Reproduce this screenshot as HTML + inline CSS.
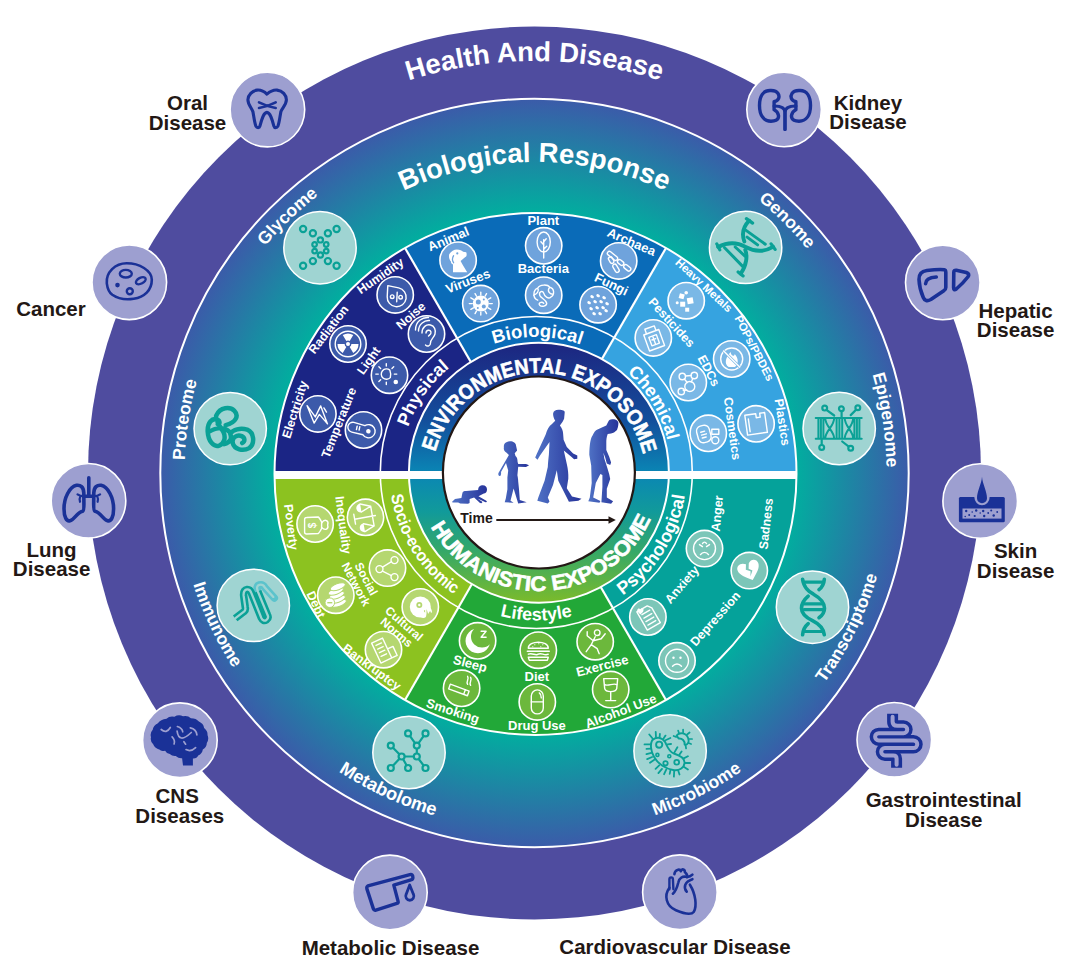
<!DOCTYPE html>
<html><head><meta charset="utf-8"><style>html,body{margin:0;padding:0;background:#fff;}svg{display:block;}</style></head>
<body><svg width="1080" height="969" viewBox="0 0 1080 969">
<defs><radialGradient id="bioG" gradientUnits="userSpaceOnUse" cx="534.5" cy="473" r="374"><stop offset="0.70" stop-color="#02ad9f"/><stop offset="1" stop-color="#3b5ba9"/></radialGradient><linearGradient id="expG" gradientUnits="userSpaceOnUse" x1="0" y1="343" x2="0" y2="603"><stop offset="0" stop-color="#1d2580"/><stop offset="0.3" stop-color="#134f9c"/><stop offset="0.5" stop-color="#0a86b5"/><stop offset="0.65" stop-color="#119a9a"/><stop offset="0.8" stop-color="#35a868"/><stop offset="1" stop-color="#7cbb2a"/></linearGradient><path id="ap1" d="M462.96,878.74 A412,412 0 1 1 606.04,878.74"/><path id="ap2" d="M480.5,779.28 A311,311 0 1 1 588.5,779.28"/><path id="ap3" d="M730.83,765.16 A352,352 0 1 1 818.91,680.4"/><path id="ap4" d="M245.34,675.47 A353,353 0 1 1 332.03,762.16"/><path id="ap5" d="M182.61,464.4 A352,352 0 1 1 200.89,585.27"/><path id="ap6" d="M866.02,585.21 A350,350 0 1 1 884.41,465.06"/><path id="ap7" d="M826.77,264.53 A359,359 0 1 0 880.44,377.06"/><path id="ap8" d="M625.39,127.76 A357,357 0 1 0 737.99,179.67"/><path id="ap9" d="M315.54,183.48 A363,363 0 1 0 427.76,126.05"/><path id="ap10" d="M190.89,372.52 A358,358 0 1 0 245.98,261.06"/><path id="ap11" d="M632.47,568.67 A136,136 0 1 1 659.56,529.98"/><path id="ap12" d="M511.61,605.73 A135.5,135.5 0 1 1 558.66,606.14"/><path id="ap13" d="M410.02,520.22 A135,135 0 1 1 433.95,560.53"/><path id="ap14" d="M644.85,373.38 A147,147 0 1 0 672.21,416.48"/><path id="ap15" d="M510.6,326.75 A148,148 0 1 0 562,326.75"/><path id="ap16" d="M396.75,416.68 A150.3,150.3 0 1 0 424.25,372.32"/><path id="ap17" d="M519.16,585.47 A107.3,107.3 0 1 1 556.42,585.86"/><path id="ap18" d="M513.12,347.73 A123,123 0 1 0 555.81,346.17"/><linearGradient id="figG" x1="0" y1="0" x2="1" y2="0"><stop offset="0" stop-color="#5073c6"/><stop offset="1" stop-color="#26339a"/></linearGradient></defs>
<circle cx="534.5" cy="473.0" r="446.5" fill="#4f4c9f"/>
<circle cx="534.5" cy="473.0" r="374.2" fill="url(#bioG)" stroke="#fff" stroke-width="2"/>
<path d="M535.5,474 L666,247.97 A261,261 0 0 1 796.5,474 Z" fill="#36a3e0"/>
<path d="M535.5,474 L405,247.97 A261,261 0 0 1 666,247.97 Z" fill="#0a6bb8"/>
<path d="M535.5,474 L274.5,474 A261,261 0 0 1 405,247.97 Z" fill="#1b2585"/>
<path d="M535.5,474 L796.5,474 A261,261 0 0 1 666,700.03 Z" fill="#05a29a"/>
<path d="M535.5,474 L666,700.03 A261,261 0 0 1 405,700.03 Z" fill="#22a838"/>
<path d="M535.5,474 L405,700.03 A261,261 0 0 1 274.5,474 Z" fill="#8cc220"/>
<circle cx="535.5" cy="474.0" r="261.0" fill="none" stroke="#fff" stroke-width="2"/>
<line x1="535.5" y1="474" x2="405" y2="247.97" stroke="#fff" stroke-width="2.2"/>
<line x1="535.5" y1="474" x2="666" y2="247.97" stroke="#fff" stroke-width="2.2"/>
<line x1="535.5" y1="474" x2="666" y2="700.03" stroke="#fff" stroke-width="2.2"/>
<line x1="535.5" y1="474" x2="405" y2="700.03" stroke="#fff" stroke-width="2.2"/>
<circle cx="536.3" cy="472.5" r="156" fill="none" stroke="#fff" stroke-width="1.6"/>
<circle cx="538.9" cy="472.7" r="130" fill="url(#expG)" stroke="#fff" stroke-width="2"/>
<rect x="274.6" y="471" width="521.5" height="8" fill="#fff"/>
<circle cx="538.9" cy="472.5" r="96" fill="#fff" stroke="#231815" stroke-width="2.2"/>
<g style='font-family:"Liberation Sans", sans-serif'>
<text font-size="27.5" font-weight="bold" fill="#fff"><textPath href="#ap1" startOffset="50%" text-anchor="middle">Health And Disease</textPath></text>
<text font-size="27.5" font-weight="bold" fill="#fff"><textPath href="#ap2" startOffset="50%" text-anchor="middle">Biological Response</textPath></text>
<text font-size="17.5" font-weight="bold" fill="#fff"><textPath href="#ap3" startOffset="50%" text-anchor="middle">Glycome</textPath></text>
<text font-size="17.5" font-weight="bold" fill="#fff"><textPath href="#ap4" startOffset="50%" text-anchor="middle">Genome</textPath></text>
<text font-size="17.5" font-weight="bold" fill="#fff"><textPath href="#ap5" startOffset="50%" text-anchor="middle">Epigenome</textPath></text>
<text font-size="17.5" font-weight="bold" fill="#fff"><textPath href="#ap6" startOffset="50%" text-anchor="middle">Proteome</textPath></text>
<text font-size="17.5" font-weight="bold" fill="#fff"><textPath href="#ap7" startOffset="50%" text-anchor="middle">Immunome</textPath></text>
<text font-size="18.2" font-weight="bold" fill="#fff"><textPath href="#ap8" startOffset="50%" text-anchor="middle">Metabolome</textPath></text>
<text font-size="17.5" font-weight="bold" fill="#fff"><textPath href="#ap9" startOffset="50%" text-anchor="middle">Microbiome</textPath></text>
<text font-size="17.5" font-weight="bold" fill="#fff"><textPath href="#ap10" startOffset="50%" text-anchor="middle">Transcriptome</textPath></text>
<text font-size="18" font-weight="bold" fill="#fff"><textPath href="#ap11" startOffset="50%" text-anchor="middle">Physical</textPath></text>
<text font-size="18.5" font-weight="bold" fill="#fff"><textPath href="#ap12" startOffset="50%" text-anchor="middle">Biological</textPath></text>
<text font-size="18" font-weight="bold" fill="#fff"><textPath href="#ap13" startOffset="50%" text-anchor="middle">Chemical</textPath></text>
<text font-size="17" font-weight="bold" fill="#fff"><textPath href="#ap14" startOffset="50%" text-anchor="middle" textLength="121" lengthAdjust="spacingAndGlyphs">Socio-economic</textPath></text>
<text font-size="18" font-weight="bold" fill="#fff"><textPath href="#ap15" startOffset="50%" text-anchor="middle">Lifestyle</textPath></text>
<text font-size="18" font-weight="bold" fill="#fff"><textPath href="#ap16" startOffset="50%" text-anchor="middle">Psychological</textPath></text>
<text font-size="21" font-weight="bold" fill="#fff" stroke="#fff" stroke-width="0.6"><textPath href="#ap17" startOffset="50%" text-anchor="middle" textLength="283" lengthAdjust="spacingAndGlyphs">ENVIRONMENTAL EXPOSOME</textPath></text>
<text font-size="21" font-weight="bold" fill="#fff" stroke="#fff" stroke-width="0.6"><textPath href="#ap18" startOffset="50%" text-anchor="middle" textLength="273" lengthAdjust="spacingAndGlyphs">HUMANISTIC EXPOSOME</textPath></text>
</g>
<circle cx="267.4" cy="109.6" r="37.3" fill="#9d9fd0" stroke="#fff" stroke-width="1.6"/>
<g transform="translate(267.4,109.6)" ><path fill="none" stroke="#1a3197" stroke-linecap="round" stroke-linejoin="round" stroke-width="3.1" d="M -0.5,-15.4 C 3,-18.5 6,-19.8 9.7,-19.5 C 15,-19 19,-14.5 19,-9.8 C 19,-5 15,-2 13.5,2 C 12.5,7 12,13 10.5,16.5 C 9.5,18.5 7,18.5 6.5,16.5 C 5,11 3,3 -0.5,2.8 C -4,3 -6,11 -7.5,16.5 C -8,18.5 -10.5,18.5 -11.5,16.5 C -13,13 -13.5,7 -14.5,2 C -16,-2 -19.5,-5 -19.5,-9.8 C -19.5,-14.5 -15,-19 -10.3,-19.5 C -6.5,-19.8 -3.5,-18.5 -0.5,-15.4 Z"/><path fill="none" stroke="#1a3197" stroke-linecap="round" stroke-linejoin="round" stroke-width="2.6" d="M -8.4,-7.3 Q 0,-3 8.3,-1.6 M -8.4,-1.6 Q 0,-3 8.3,-7.3"/></g>
<circle cx="784.1" cy="109.5" r="37.3" fill="#9d9fd0" stroke="#fff" stroke-width="1.6"/>
<g transform="translate(784.1,109.5)" ><g transform="translate(0.9,0)"><path fill="none" stroke="#1a3197" stroke-linecap="round" stroke-linejoin="round" stroke-width="3.4" d="M -10.9,-7.8 C -6,-9 -5,-13 -7,-16 C -9,-19.5 -13,-19 -15,-19 C -22,-19 -25.5,-13 -25.5,-4 C -25.5,6 -21,11.7 -14,11.7 C -11,11.7 -6,11 -6.5,6 C -7,3 -9,1 -10.9,0.2 Z"/><path fill="none" stroke="#1a3197" stroke-linecap="round" stroke-linejoin="round" stroke-width="3.4" d="M -10.9,-7.8 C -6,-9 -5,-13 -7,-16 C -9,-19.5 -13,-19 -15,-19 C -22,-19 -25.5,-13 -25.5,-4 C -25.5,6 -21,11.7 -14,11.7 C -11,11.7 -6,11 -6.5,6 C -7,3 -9,1 -10.9,0.2 Z" transform="scale(-1,1)"/><path fill="none" stroke="#1a3197" stroke-linecap="round" stroke-linejoin="round" stroke-width="3.2" stroke-linecap="butt" d="M -10.9,-3.5 C -5,-3.5 0,-2 0,3 L 0,20"/><path fill="none" stroke="#1a3197" stroke-linecap="round" stroke-linejoin="round" stroke-linecap="butt" stroke-width="3.2" d="M -10.9,-3.5 C -5,-3.5 0,-2 0,3 L 0,20" transform="scale(-1,1)"/></g></g>
<circle cx="129.3" cy="282.3" r="37.3" fill="#9d9fd0" stroke="#fff" stroke-width="1.6"/>
<g transform="translate(129.3,282.3)" ><path fill="none" stroke="#1a3197" stroke-linecap="round" stroke-linejoin="round" stroke-width="2.6" d="M -22.5,1 C -23.5,-10 -14,-19 -2.6,-19 C 10,-19 22.5,-12 22.5,-2.5 C 22.5,8 15,15 4.4,16.5 C -5,18 -12,16 -17,12.5 C -21,9.5 -22,5 -22.5,1 Z"/><ellipse fill="none" stroke="#1a3197" stroke-linecap="round" stroke-linejoin="round" stroke-width="2.4" cx="-3.5" cy="-8.6" rx="6" ry="3.8"/><ellipse fill="none" stroke="#1a3197" stroke-linecap="round" stroke-linejoin="round" stroke-width="2.4" cx="11.5" cy="-1.6" rx="5.3" ry="2.9" transform="rotate(-28 11.5 -1.6)"/><circle fill="none" stroke="#1a3197" stroke-linecap="round" stroke-linejoin="round" stroke-width="2.4" cx="0.5" cy="9" r="3"/><circle fill="#1a3197" cx="-11.8" cy="2.8" r="2.3"/></g>
<circle cx="942.8" cy="282.5" r="37.3" fill="#9d9fd0" stroke="#fff" stroke-width="1.6"/>
<g transform="translate(942.8,282.5)" ><path fill="none" stroke="#1a3197" stroke-linecap="round" stroke-linejoin="round" stroke-width="3.6" d="M -16,-12 C -4,-13.5 0,-13 1.5,-12.8 Q 3,-12.6 3,-10 L 3,5 Q 3,7 1,8.2 L -12,17 Q -17.5,20 -19.5,15 Q -23.5,6 -23.8,-3 Q -24,-11 -16,-12 Z"/><path fill="none" stroke="#1a3197" stroke-linecap="round" stroke-linejoin="round" stroke-width="3.6" stroke-linecap="butt" d="M -17.2,1.3 Q -17,-5 -6.5,-5.5"/><path fill="none" stroke="#1a3197" stroke-linecap="round" stroke-linejoin="round" stroke-width="3.6" d="M 11,-10 Q 11,-12.5 13.5,-12.3 L 23.5,-10 Q 27.5,-8.5 25,-5.5 Q 20,1 13.5,6.5 Q 10.8,8.5 10.8,5 Z"/></g>
<circle cx="88.5" cy="500.8" r="37.3" fill="#9d9fd0" stroke="#fff" stroke-width="1.6"/>
<g transform="translate(88.5,500.8)" ><path fill="none" stroke="#1a3197" stroke-linecap="round" stroke-linejoin="round" stroke-width="3.6" d="M 0.3,-23 L 0.3,-5"/><path fill="none" stroke="#1a3197" stroke-linecap="round" stroke-linejoin="round" stroke-width="3.6" d="M -4.6,-4.6 L 5.2,-4.6"/><path fill="none" stroke="#1a3197" stroke-linecap="round" stroke-linejoin="round" stroke-width="3.6" d="M -4.7,-8 C -5,-14 -8,-16 -12,-15.5 C -19,-14 -24.5,-3 -24.5,8 C -24.5,16 -22,21 -18.5,20 C -14,19 -12,12 -6,10.5 C -4.5,10 -4.5,6 -4.6,2 Z"/><path fill="none" stroke="#1a3197" stroke-linecap="round" stroke-linejoin="round" stroke-width="3.6" d="M -4.7,-8 C -5,-14 -8,-16 -12,-15.5 C -19,-14 -24.5,-3 -24.5,8 C -24.5,16 -22,21 -18.5,20 C -14,19 -12,12 -6,10.5 C -4.5,10 -4.5,6 -4.6,2 Z" transform="scale(-1,1) translate(-0.6,0)"/><path fill="none" stroke="#1a3197" stroke-linecap="round" stroke-linejoin="round" stroke-width="2.2" d="M -4.6,-4.6 C -7,-4.6 -9,-5 -11,-6.5 M -8,-4.8 C -9,-3 -9,-1 -8.5,1"/><path fill="none" stroke="#1a3197" stroke-linecap="round" stroke-linejoin="round" stroke-width="2.2" d="M -4.6,-4.6 C -7,-4.6 -9,-5 -11,-6.5 M -8,-4.8 C -9,-3 -9,-1 -8.5,1" transform="scale(-1,1) translate(-0.6,0)"/></g>
<circle cx="980.2" cy="501.0" r="37.3" fill="#9d9fd0" stroke="#fff" stroke-width="1.6"/>
<g transform="translate(980.2,501.0)" ><rect x="-21.3" y="-4.1" width="45.9" height="25.3" rx="1.5" fill="#1a3197"/><circle cx="1.8" cy="-3.4" r="7.6" fill="#9d9fd0"/><path fill="#1a3197" d="M 1.8,-24.3 C 2.3,-17 6.8,-10 6.8,-2.8 A 5,5 0 1 1 -3.2,-2.8 C -3.2,-10 1.3,-17 1.8,-24.3 Z"/><rect x="-17.7" y="7.5" width="39" height="10.1" fill="#9d9fd0"/><circle cx="-14" cy="10" r="1.2" fill="#1a3197"/><circle cx="-11" cy="14" r="1" fill="#1a3197"/><circle cx="-8" cy="11" r="0.8" fill="#1a3197"/><circle cx="-4" cy="9.5" r="1.2" fill="#1a3197"/><circle cx="-5.5" cy="15" r="1.1" fill="#1a3197"/><circle cx="0" cy="12" r="0.8" fill="#1a3197"/><circle cx="3" cy="10" r="1.2" fill="#1a3197"/><circle cx="4" cy="15" r="1.2" fill="#1a3197"/><circle cx="8" cy="12" r="0.9" fill="#1a3197"/><circle cx="11" cy="9.5" r="1" fill="#1a3197"/><circle cx="13.5" cy="14.5" r="1.2" fill="#1a3197"/><circle cx="-15" cy="15.5" r="0.8" fill="#1a3197"/><circle cx="17" cy="11" r="0.9" fill="#1a3197"/></g>
<circle cx="179.9" cy="740.2" r="37.3" fill="#9d9fd0" stroke="#fff" stroke-width="1.6"/>
<g transform="translate(179.9,740.2)" ><path fill="#1a3197" d="M -22,-17 Q -19.3,-20.8 -13.4,-21.5 Q -10.4,-24.5 -5.5,-23.5 Q -1.3,-25.9 3.1,-24 Q 7.8,-25.1 11,-22 Q 16.4,-22.0 19,-18.6 Q 23.5,-16.6 24.2,-12.3 Q 28.0,-9.3 27.6,-5.1 Q 29.4,-1.1 26.9,2.8 Q 27.0,6.8 22.9,9.4 Q 22.4,13.6 18.3,15.3 Q 17.1,18.4 13,18.2 L 13,25.3 L 3.1,25.3 L 2.2,18 Q -1.1,18.4 -4.2,15.8 Q -7.7,16.2 -10.1,13.8 Q -13.4,13.3 -14.8,10.5 Q -19.3,11.3 -20.1,9.6 Q -25.5,7.6 -26.7,4.1 Q -30.0,0.8 -28.9,-3 Q -30.2,-7.1 -27.2,-10.4 Q -26.6,-14.6 -22,-17 Z"/><path fill="none" stroke="#9d9fd0" stroke-width="1.7" stroke-linecap="round" d="M -18.7,-10.7 Q -13.5,-6 -9.6,-12.7 M -2.5,-13.7 Q 2.5,-12 2.8,-8.4 M -2.8,-9 Q -1,4 11.4,-7.7 M 4,1.5 L 5.7,4 M 10.4,-12.4 Q 16.5,-11 17,-5.4 M -7.8,-3.4 Q -4.5,0 -5.8,3.8 M 6.1,9.4 Q 11,12 15.7,7.4"/></g>
<circle cx="894.3" cy="739.8" r="37.3" fill="#9d9fd0" stroke="#fff" stroke-width="1.6"/>
<g transform="translate(894.3,739.8)" ><path fill="none" stroke="#1a3197" stroke-width="11" stroke-linejoin="round" d="M -1.7,-26 L -1.7,-18 Q -1.7,-14 3,-14 L 9.2,-14 A 3.7,3.7 0 0 1 9.2,-6.6 L -15.6,-6.6 A 3.6,3.6 0 0 0 -15.6,0.6 L 19.1,0.6 A 3.85,3.85 0 0 1 19.1,8.3 L -9.4,8.3 A 3.7,3.7 0 0 0 -9.4,15.7 L -1,15.7 Q 2.3,15.7 2.3,19 L 2.3,28"/><path fill="none" stroke="#9d9fd0" stroke-width="4" stroke-linecap="round" stroke-linejoin="round" d="M -1.7,-23 L -1.7,-18 Q -1.7,-14 3,-14 L 9.2,-14 A 3.7,3.7 0 0 1 9.2,-6.6 L -15.6,-6.6 A 3.6,3.6 0 0 0 -15.6,0.6 L 19.1,0.6 A 3.85,3.85 0 0 1 19.1,8.3 L -9.4,8.3 A 3.7,3.7 0 0 0 -9.4,15.7 L -1,15.7 Q 2.3,15.7 2.3,19 L 2.3,25"/></g>
<circle cx="389.9" cy="892.4" r="37.3" fill="#9d9fd0" stroke="#fff" stroke-width="1.6"/>
<g transform="translate(389.9,892.4)" ><path fill="none" stroke="#1a3197" stroke-linecap="round" stroke-linejoin="round" stroke-width="3.4" d="M -22,-6.5 L 20,-17.8 Q 23,-18.5 23,-15 Q 23,-13 21,-12.5 L 3.9,-7.3 L 8.2,9 Q 8.6,10.5 7,11 L -14,17.8 Q -16,18.3 -16.5,16.5 L -23,-3.5 Q -23.5,-5.5 -22,-6.5 Z"/><path fill="none" stroke="#1a3197" stroke-linecap="round" stroke-linejoin="round" stroke-width="2.8" d="M 19.8,-7.5 L 16.2,2 A 4.1,4.1 0 1 0 23.6,2 Z"/></g>
<circle cx="679.9" cy="892.2" r="37.3" fill="#9d9fd0" stroke="#fff" stroke-width="1.6"/>
<g transform="translate(679.9,892.2)" ><path fill="none" stroke="#1a3197" stroke-linecap="round" stroke-linejoin="round" stroke-width="2.6" d="M -10.5,-4.5 C -16,3 -14,14 -4,18 C 3,21 11,23.5 14,19.5 C 17,14 16,2 10,-7.5"/><path fill="none" stroke="#1a3197" stroke-linecap="round" stroke-linejoin="round" stroke-width="2.6" d="M -7,1.5 C -4,-1 -2.5,-6 -1.5,-10 C -0.5,-14.5 3,-16 6,-15.5 C 9,-15 11,-16 12.5,-17.5"/><path fill="none" stroke="#1a3197" stroke-linecap="round" stroke-linejoin="round" stroke-width="2.4" d="M -10.5,-3 L -10.5,-13 C -10.5,-15.5 -7,-15.5 -7,-13 L -6.5,-3"/><path fill="none" stroke="#1a3197" stroke-linecap="round" stroke-linejoin="round" stroke-width="2.6" d="M -5.5,-18 C -5,-23 0,-23.5 1,-21 C 2,-24 5,-23 5,-20 C 6,-19 8,-18 7,-15"/><path fill="none" stroke="#1a3197" stroke-linecap="round" stroke-linejoin="round" stroke-width="2.6" d="M 6.8,-0.5 C 3,-5 5,-10.5 12.5,-13"/></g>
<circle cx="320" cy="247.7" r="36.2" fill="#9fd4d2" stroke="#fff" stroke-width="1.5"/>
<g transform="translate(320,247.7)" ><circle fill="none" stroke="#0aa196" stroke-linecap="round" stroke-linejoin="round" stroke-width="2.2" cx="-16.9" cy="-18.7" r="3.1"/><circle fill="none" stroke="#0aa196" stroke-linecap="round" stroke-linejoin="round" stroke-width="2.2" cx="16.6" cy="-18.7" r="3.1"/><circle fill="none" stroke="#0aa196" stroke-linecap="round" stroke-linejoin="round" stroke-width="2.2" cx="-16.9" cy="18.1" r="3.1"/><circle fill="none" stroke="#0aa196" stroke-linecap="round" stroke-linejoin="round" stroke-width="2.2" cx="16.6" cy="18.1" r="3.1"/><circle fill="none" stroke="#0aa196" stroke-linecap="round" stroke-linejoin="round" stroke-width="2.2" cx="-7.1" cy="-14.5" r="3.1"/><circle fill="none" stroke="#0aa196" stroke-linecap="round" stroke-linejoin="round" stroke-width="2.2" cx="7.9" cy="-14.5" r="3.1"/><circle fill="none" stroke="#0aa196" stroke-linecap="round" stroke-linejoin="round" stroke-width="2.2" cx="-7.1" cy="13.4" r="3.1"/><circle fill="none" stroke="#0aa196" stroke-linecap="round" stroke-linejoin="round" stroke-width="2.2" cx="7.9" cy="13.4" r="3.1"/><circle fill="none" stroke="#0aa196" stroke-linecap="round" stroke-linejoin="round" stroke-width="2.2" cx="0.4" cy="-7.8" r="2.6"/><circle fill="none" stroke="#0aa196" stroke-linecap="round" stroke-linejoin="round" stroke-width="2.2" cx="0.4" cy="7.3" r="2.6"/><circle fill="none" stroke="#0aa196" stroke-linecap="round" stroke-linejoin="round" stroke-width="2.2" cx="-5.4" cy="-3.2" r="2.3"/><circle fill="none" stroke="#0aa196" stroke-linecap="round" stroke-linejoin="round" stroke-width="2.2" cx="6.2" cy="-3.2" r="2.3"/><circle fill="none" stroke="#0aa196" stroke-linecap="round" stroke-linejoin="round" stroke-width="2.2" cx="-5.4" cy="3.4" r="2.3"/><circle fill="none" stroke="#0aa196" stroke-linecap="round" stroke-linejoin="round" stroke-width="2.2" cx="6.2" cy="3.4" r="2.3"/></g>
<circle cx="745.6" cy="247.4" r="36.2" fill="#9fd4d2" stroke="#fff" stroke-width="1.5"/>
<g transform="translate(745.6,247.4)" ><path fill="none" stroke="#0aa196" stroke-linecap="round" stroke-linejoin="round" stroke-width="3.9" stroke-linecap="butt" d="M 3.6,-26.7 C -3,-20 -3.5,-12 -1.3,-6 M -27.5,-0.5 C -17,-6 -8,-5 0,-0.5 C 8,4 18,5 27.5,-0.5 M -0.3,2.5 C 2,8 1,18 -4.8,26.2"/><path fill="none" stroke="#0aa196" stroke-linecap="round" stroke-linejoin="round" stroke-width="3" stroke-linecap="butt" d="M 0.1,-17.3 L 19.7,-3.2 M 1.5,-10.3 L 12,-2.5 M -21,0.3 L -2.7,19.2 M -10.4,-0.4 L -0.6,8.7"/><path fill="none" stroke="#0aa196" stroke-linecap="round" stroke-linejoin="round" stroke-width="3.2" stroke-linecap="butt" d="M 0.8,-28.8 L 7,-24.3 M -28.8,-3.5 L -25.8,2.5 M -7.5,24.5 L -2.5,28.5 M 25.5,-3.5 L 29.5,2"/></g>
<circle cx="839.2" cy="428.5" r="36.2" fill="#9fd4d2" stroke="#fff" stroke-width="1.5"/>
<g transform="translate(839.2,428.5)" ><path fill="none" stroke="#0aa196" stroke-linecap="round" stroke-linejoin="round" stroke-width="2" stroke-linecap="butt" d="M -20.8,-10.6 L -20.8,10.2 M -18.3,-10.6 L -18.3,10.2 M -15.8,-10.6 L -15.8,10.2 M -2.6,-10.6 L -2.6,10.2 M 0.2,-10.6 L 0.2,10.2 M 3,-10.6 L 3,10.2 M 15.2,-10.6 L 15.2,10.2 M 17.7,-10.6 L 17.7,10.2 M 20.2,-10.6 L 20.2,10.2 M -23.5,-10.6 L 22.5,-10.6 M -23.5,10.2 L 22.5,10.2 M -14,-10.6 C -14,-2 -5,2 -5,10.2 M -5,-10.6 C -5,-2 -14,2 -14,10.2 M 5.5,-10.6 C 5.5,-2 14,2 14,10.2 M 14,-10.6 C 14,-2 5.5,2 5.5,10.2"/><path fill="none" stroke="#0aa196" stroke-linecap="round" stroke-linejoin="round" stroke-width="2.2" d="M -14.5,-19.9 L -5,-13 M 2.4,-17 L 2.4,-11 M 18.6,-20.5 L 11.5,-13.4 M -17.5,18.3 L -17.5,11 M 11.5,19.6 L 3,13"/><circle cx="-14.5" cy="-20.4" r="2.4" fill="#9fd4d2" stroke="#0aa196" stroke-width="2.2"/><circle cx="2.2" cy="-19.8" r="2.4" fill="#9fd4d2" stroke="#0aa196" stroke-width="2.2"/><circle cx="18.6" cy="-20.8" r="2.4" fill="#9fd4d2" stroke="#0aa196" stroke-width="2.2"/><circle cx="-17.5" cy="18.9" r="2.4" fill="#9fd4d2" stroke="#0aa196" stroke-width="2.2"/><circle cx="11.5" cy="19.8" r="2.4" fill="#9fd4d2" stroke="#0aa196" stroke-width="2.2"/></g>
<circle cx="230.2" cy="428.6" r="36.2" fill="#9fd4d2" stroke="#fff" stroke-width="1.5"/>
<g transform="translate(230.2,428.6)" ><path fill="none" stroke="#0aa196" stroke-linecap="round" stroke-linejoin="round" stroke-width="4.5" d="M -4.5,-3.5 C 6,-6 9,-13 4,-18 C 0,-22 -10,-22 -14,-13 M -14,-13 C -15,-8 -10,-2 -7,3 C -4,9 -6,15 -11,17 C -17,19 -22,12 -22.5,3 C -23,-6 -18,-11 -13,-9 C -10,-8 -10,-4 -12.5,-4.5 M -21,3 C -14,-1 -6,-2 -1,3 M -6,15.5 C 0,14 2,10 0,5 C 3,1 10,-1 17,1 C 24,4 25,15 19,19.5 C 13,23 4,21 2.5,14.5 C 1.5,9 7,5.5 11.5,7.5 C 15,9 15,13 12,14.5"/></g>
<circle cx="253.3" cy="605.4" r="36.2" fill="#9fd4d2" stroke="#fff" stroke-width="1.5"/>
<g transform="translate(253.3,605.4)" ><path fill="none" stroke="#5bc3cc" stroke-width="7.5" stroke-linecap="round" stroke-linejoin="round" d="M 4.5,-14 Q 2.5,-19.5 6,-20.5 Q 9.5,-21.5 11.5,-18 L 21,-7.5"/><path fill="none" stroke="#0aa196" stroke-width="7.5" stroke-linecap="butt" stroke-linejoin="round" d="M -18.1,13 L -9,6 Q -7.5,4.5 -8,2 L -9.7,-10 Q -10,-15.5 -6.2,-16 Q -3.2,-16.2 -2,-12.5 L 8,12.5 Q 10,16.5 13.2,14.5 Q 15.8,12.5 14.2,9.5 L 4.5,-14"/><path fill="none" stroke="#9fd4d2" stroke-width="2.3" stroke-linecap="round" stroke-linejoin="round" d="M -17.5,12.5 L -9,6 Q -7.5,4.5 -8,2 L -9.7,-10 Q -10,-15.5 -6.2,-16 Q -3.2,-16.2 -2,-12.5 L 8,12.5 Q 10,16.5 13.2,14.5 Q 15.8,12.5 14.2,9.5 L 4.5,-14 Q 2.5,-19.5 6,-20.5 Q 9.5,-21.5 11.5,-18 L 20,-8.5"/></g>
<circle cx="812.5" cy="607.2" r="36.2" fill="#9fd4d2" stroke="#fff" stroke-width="1.5"/>
<g transform="translate(812.5,607.2)" ><path fill="none" stroke="#0aa196" stroke-linecap="round" stroke-linejoin="round" stroke-width="3.6" d="M -9.9,-27.9 C -9,-20 -3,-15 1,-13 C 8,-9 12,-4 12,1 C 12,5 10,8 6.5,10.5 M 11.8,-27.9 C 11.5,-24 9.5,-20 6.5,-17.5 M -4.3,-11 C -9,-7 -11,-3 -11,1 C -11,6 -7,10 0,13.5 C 5,16 11,21 11.8,27.6 M -4.3,16.4 C -7.5,19 -9.5,23 -9.9,27.6"/><path fill="none" stroke="#0aa196" stroke-linecap="round" stroke-linejoin="round" stroke-width="3.2" stroke-linecap="butt" d="M -8.5,-25 L 10.5,-25 M -8.5,-3.3 L 10.5,-3.3 M -8.5,2.5 L 10.5,2.5 M -8.5,24.3 L 10.5,24.3"/></g>
<circle cx="409" cy="752.5" r="36.2" fill="#9fd4d2" stroke="#fff" stroke-width="1.5"/>
<g transform="translate(409,752.5)" ><path fill="none" stroke="#0aa196" stroke-linecap="round" stroke-linejoin="round" stroke-width="2.2" d="M -0.9,-19.1 L 7.8,-6.9 M 16.5,-19.1 L 7.8,-6.9 M 7.8,-6.9 L 7.8,4 M -7.4,4 L 7.8,4 M -18.2,-6.9 L -7.4,4 M -7.4,4 L -18.2,15.5 M -7.4,4 L -0.9,15.5 M 7.8,4 L 16.5,15.5"/><circle cx="-0.9" cy="-19.1" r="3" fill="#9fd4d2" stroke="#0aa196" stroke-width="2.2"/><circle cx="16.5" cy="-19.1" r="3" fill="#9fd4d2" stroke="#0aa196" stroke-width="2.2"/><circle cx="7.8" cy="-6.9" r="3" fill="#9fd4d2" stroke="#0aa196" stroke-width="2.2"/><circle cx="-18.2" cy="-6.9" r="3" fill="#9fd4d2" stroke="#0aa196" stroke-width="2.2"/><circle cx="-7.4" cy="4" r="3" fill="#9fd4d2" stroke="#0aa196" stroke-width="2.2"/><circle cx="7.8" cy="4" r="3" fill="#9fd4d2" stroke="#0aa196" stroke-width="2.2"/><circle cx="-18.2" cy="15.5" r="3" fill="#9fd4d2" stroke="#0aa196" stroke-width="2.2"/><circle cx="-0.9" cy="15.5" r="3" fill="#9fd4d2" stroke="#0aa196" stroke-width="2.2"/><circle cx="16.5" cy="15.5" r="3" fill="#9fd4d2" stroke="#0aa196" stroke-width="2.2"/></g>
<circle cx="670.1" cy="751" r="36.2" fill="#9fd4d2" stroke="#fff" stroke-width="1.5"/>
<g transform="translate(670.1,751)" ><path fill="none" stroke="#0aa196" stroke-linecap="round" stroke-linejoin="round" stroke-width="1.9" d="M -17.9,-10.8 C -14,-14.5 -8,-14 -5,-9 C -3,-5 -1,1 3.8,2.5 C 10,4.5 15,7 14.4,12 C 14,17 9,20 3,19 C -4,18 -12,13 -16,6 C -19.5,0 -20,-7 -17.9,-10.8 Z"/><path fill="none" stroke="#0aa196" stroke-linecap="round" stroke-linejoin="round" stroke-width="1.8" d="M -14.4,-19.2 L -14.1,-13.6 M -20.8,-16.5 L -17.3,-12.2 M -25.6,-6.6 L -19.4,-6.6 M -23.6,-2.1 L -19,-2.4 M -23.6,3.2 L -18.7,1.8 M -22.9,8.1 L -18,6 M -20.1,11.8 L -15.8,8.8 M -14.5,17.9 L -10.9,14.4 M -11.7,22.1 L -8.1,17.9 M -6,23.2 L -3.9,18.6 M -0.4,22.9 L 0.3,19.3 M 3.8,25.6 L 4.1,20 M 9.4,23.5 L 8,19.3 M 17.8,18.6 L 13.6,15.8 M 20,12 L 15,12 M 17.8,5.3 L 13.6,7.4 M 11.5,0.4 L 9.4,3.5 M 7.3,-3.8 L 4.5,1.1 M 1,-7 L -2.5,-6.6 M 0.3,-13 L -4.6,-10.8 M -4.6,-15.4 L -6.7,-12.2 M -10.2,-17.1 L -10.5,-13.3"/><circle fill="none" stroke="#0aa196" stroke-linecap="round" stroke-linejoin="round" stroke-width="1.9" cx="-10.9" cy="-6.3" r="3.1"/><circle fill="none" stroke="#0aa196" stroke-linecap="round" stroke-linejoin="round" stroke-width="1.6" cx="-12.7" cy="3.9" r="1.5"/><circle fill="none" stroke="#0aa196" stroke-linecap="round" stroke-linejoin="round" stroke-width="1.6" cx="-0.8" cy="5.3" r="1.5"/><circle fill="none" stroke="#0aa196" stroke-linecap="round" stroke-linejoin="round" stroke-width="1.8" cx="-4.6" cy="12.3" r="2.2"/><circle fill="none" stroke="#0aa196" stroke-linecap="round" stroke-linejoin="round" stroke-width="1.8" cx="6.6" cy="11.3" r="2.4"/><path fill="none" stroke="#0aa196" stroke-linecap="round" stroke-linejoin="round" stroke-width="1.9" d="M 6.5,-15.5 C 9,-19 16,-18.5 18,-13 C 19.5,-9 17.5,-5.5 14.5,-6.5 C 15,-10 12,-13 8.5,-12.5 Z"/><path fill="none" stroke="#0aa196" stroke-linecap="round" stroke-linejoin="round" stroke-width="1.7" d="M 9,-17.5 L 8,-20.5 M 13,-18.5 L 13,-21.5 M 17,-16.5 L 19.5,-18.5 M 19,-12 L 22,-12 M 18.5,-8 L 21,-7 M 15.5,-5.5 L 16,-2.5 M 6,-14 L 3.5,-15"/></g>
<text style='font-family:"Liberation Sans", sans-serif' font-size="20.5" font-weight="bold" fill="#231815" text-anchor="middle"><tspan x="187.5" y="110.4">Oral</tspan><tspan x="187.5" y="129.6">Disease</tspan></text>
<text style='font-family:"Liberation Sans", sans-serif' font-size="20.5" font-weight="bold" fill="#231815" text-anchor="middle"><tspan x="868" y="109.8">Kidney</tspan><tspan x="868" y="129">Disease</tspan></text>
<text style='font-family:"Liberation Sans", sans-serif' font-size="20.5" font-weight="bold" fill="#231815" text-anchor="middle"><tspan x="51" y="315.5">Cancer</tspan></text>
<text style='font-family:"Liberation Sans", sans-serif' font-size="20.5" font-weight="bold" fill="#231815" text-anchor="middle"><tspan x="1015.6" y="318.2">Hepatic</tspan><tspan x="1015.6" y="337.4">Disease</tspan></text>
<text style='font-family:"Liberation Sans", sans-serif' font-size="20.5" font-weight="bold" fill="#231815" text-anchor="middle"><tspan x="51.6" y="556.6">Lung</tspan><tspan x="51.6" y="575.8">Disease</tspan></text>
<text style='font-family:"Liberation Sans", sans-serif' font-size="20.5" font-weight="bold" fill="#231815" text-anchor="middle"><tspan x="1015.6" y="558.3">Skin</tspan><tspan x="1015.6" y="577.5">Disease</tspan></text>
<text style='font-family:"Liberation Sans", sans-serif' font-size="20.5" font-weight="bold" fill="#231815" text-anchor="middle"><tspan x="177.2" y="803.4">CNS</tspan></text>
<text style='font-family:"Liberation Sans", sans-serif' font-size="20.5" font-weight="bold" fill="#231815" text-anchor="middle"><tspan x="179.8" y="822.6">Diseases</tspan></text>
<text style='font-family:"Liberation Sans", sans-serif' font-size="20.5" font-weight="bold" fill="#231815" text-anchor="middle"><tspan x="943.7" y="806.7">Gastrointestinal</tspan><tspan x="943.7" y="826.7">Disease</tspan></text>
<text style='font-family:"Liberation Sans", sans-serif' font-size="20.5" font-weight="bold" fill="#231815" text-anchor="middle"><tspan x="390.5" y="954.6">Metabolic Disease</tspan></text>
<text style='font-family:"Liberation Sans", sans-serif' font-size="20.5" font-weight="bold" fill="#231815" text-anchor="middle"><tspan x="675" y="953.6">Cardiovascular Disease</tspan></text>
<circle cx="395.2" cy="294.9" r="18.2" fill="#3c5aaa" stroke="#fff" stroke-width="1.6"/>
<g transform="translate(395.2,294.9)" ><path fill="none" stroke="#fff" stroke-width="1.4" stroke-linecap="round" stroke-linejoin="round" stroke-width="1.5" d="M -7.4,-9.3 L 3.46,-7 A 9.5,9.5 0 1 1 -7.99,1.79 Z"/><circle fill="none" stroke="#fff" stroke-width="1.4" stroke-linecap="round" stroke-linejoin="round" stroke-width="1.2" cx="-3" cy="1.8" r="1.8"/><circle fill="none" stroke="#fff" stroke-width="1.4" stroke-linecap="round" stroke-linejoin="round" stroke-width="1.2" cx="5.4" cy="2.3" r="1.8"/><path fill="none" stroke="#fff" stroke-width="1.4" stroke-linecap="round" stroke-linejoin="round" stroke-width="1.2" d="M 2,-2.7 L 1.5,6.8"/></g>
<circle cx="426.5" cy="334" r="18.2" fill="#3c5aaa" stroke="#fff" stroke-width="1.6"/>
<g transform="translate(426.5,334)" ><path fill="none" stroke="#fff" stroke-width="1.4" stroke-linecap="round" stroke-linejoin="round" d="M -4.5,-1 C -4.5,-7 0,-10 4,-9 C 8,-8 9.5,-4 8.5,0 C 7.5,4 4,5 4,9 C 4,12 1,13 -1,11"/><path fill="none" stroke="#fff" stroke-width="1.4" stroke-linecap="round" stroke-linejoin="round" d="M -0.5,-1 C -0.5,-4 3.5,-5 4.5,-2 C 5,0 3,1 2,2"/><path fill="none" stroke="#fff" stroke-width="1.4" stroke-linecap="round" stroke-linejoin="round" d="M -8,-3 C -8,-10 -2,-14 3,-13.5 M -11,-4 C -11,-13 -4,-17 2,-16.5" stroke-width="1.2"/></g>
<circle cx="348" cy="344" r="18.2" fill="#3c5aaa" stroke="#fff" stroke-width="1.6"/>
<g transform="translate(348,344)" ><circle fill="none" stroke="#fff" stroke-width="1.4" stroke-linecap="round" stroke-linejoin="round" cx="0" cy="0" r="12.8"/><path fill="#fff" d="M -5.25,-9.09 A 10.5,10.5 0 0 1 5.25,-9.09 L 1.70,-2.94 A 3.4,3.4 0 0 0 -1.70,-2.94 Z"/><path fill="#fff" d="M 10.50,0.00 A 10.5,10.5 0 0 1 5.25,9.09 L 1.70,2.94 A 3.4,3.4 0 0 0 3.40,0.00 Z"/><path fill="#fff" d="M -5.25,9.09 A 10.5,10.5 0 0 1 -10.50,0.00 L -3.40,0.00 A 3.4,3.4 0 0 0 -1.70,2.94 Z"/><circle fill="#fff" r="2"/></g>
<circle cx="389.5" cy="375.2" r="18.2" fill="#3c5aaa" stroke="#fff" stroke-width="1.6"/>
<g transform="translate(389.5,375.2)" ><g transform="translate(-3.2,-1.1)"><path fill="none" stroke="#fff" stroke-width="1.4" stroke-linecap="round" stroke-linejoin="round" stroke-width="1.4" d="M 4,3.5 A 5.2,5.2 0 1 1 3.5,-4 Q 5,0 4,3.5 Z"/><path fill="none" stroke="#fff" stroke-width="1.4" stroke-linecap="round" stroke-linejoin="round" stroke-width="1.3" d="M -8.00,0.00 L -10.50,0.00 M -5.66,-5.66 L -7.42,-7.42 M 0.00,-8.00 L 0.00,-10.50 M 5.66,-5.66 L 7.42,-7.42 M 8.00,0.00 L 10.50,0.00 M -5.66,5.66 L -7.42,7.42 M 0.00,8.00 L 0.00,10.50"/></g><circle fill="#fff" cx="6.3" cy="6.8" r="2.3"/></g>
<circle cx="317.9" cy="413.9" r="18.2" fill="#3c5aaa" stroke="#fff" stroke-width="1.6"/>
<g transform="translate(317.9,413.9)" ><path fill="none" stroke="#fff" stroke-width="1.4" stroke-linecap="round" stroke-linejoin="round" stroke-width="1.6" d="M -10.8,-8.2 L -2.6,3 L 2.8,-8 L 9.6,10 L 1.5,0.5 L -3.8,9.2 Z"/><path fill="none" stroke="#fff" stroke-width="1.4" stroke-linecap="round" stroke-linejoin="round" stroke-width="1.5" d="M 6,-6 L 8.6,-1.8"/></g>
<circle cx="363.5" cy="430" r="18.2" fill="#3c5aaa" stroke="#fff" stroke-width="1.6"/>
<g transform="translate(363.5,430)" ><g transform="rotate(12)"><path fill="none" stroke="#fff" stroke-width="1.4" stroke-linecap="round" stroke-linejoin="round" stroke-width="1.6" d="M -11,-5.5 L 0.5,-4.5 A 6.6,6.6 0 1 1 0.5,4.8 L -11,4.5 A 5,5 0 0 1 -11,-5.5 Z"/><circle fill="#fff" cx="5" cy="0.2" r="2.3"/><path fill="none" stroke="#fff" stroke-width="1.4" stroke-linecap="round" stroke-linejoin="round" stroke-width="1.3" d="M -7,-2.5 L -7,1 M -4.3,-2.5 L -4.3,1"/></g></g>
<circle cx="458.1" cy="260.2" r="18.2" fill="#6fa3dc" stroke="#fff" stroke-width="1.6"/>
<g transform="translate(458.1,260.2)" ><path fill="#fff" d="M -8.9,-6 C -7,-9 -4,-10.7 -1.3,-10.7 C 2,-10.7 4,-9.5 5,-8.5 L 8.1,-7.9 C 9,-6 8.5,-3.5 7.2,-3.1 L 2.5,0.7 C 3.5,3 5,5 6.2,7.3 L 9.1,12 L -5.1,12 L -5.1,4.4 C -6.5,3.5 -7.5,2.5 -7,1.6 C -9,-1 -9.5,-3.5 -8.9,-6 Z"/><path fill="none" stroke="#6fa3dc" stroke-width="1.3" stroke-linecap="round" d="M -4.5,-4.5 C -6,-2 -6,0.5 -4.5,2.5"/><circle cx="-0.8" cy="-6.8" r="1.1" fill="#6fa3dc"/></g>
<circle cx="543.7" cy="245.8" r="18.2" fill="#6fa3dc" stroke="#fff" stroke-width="1.6"/>
<g transform="translate(543.7,245.8)" ><ellipse fill="none" stroke="#fff" stroke-width="1.4" stroke-linecap="round" stroke-linejoin="round" stroke-width="1.3" cx="0" cy="-3.8" rx="6.6" ry="10"/><path fill="none" stroke="#fff" stroke-width="1.4" stroke-linecap="round" stroke-linejoin="round" stroke-width="1.3" d="M 0,-6 L 0,12.2 M 0,-1 L -2.8,-4 M 0,3.5 L 3,0.5 M 0,-4 L 2.5,-7"/></g>
<circle cx="618.7" cy="260.9" r="18.2" fill="#6fa3dc" stroke="#fff" stroke-width="1.6"/>
<g transform="translate(618.7,260.9)" ><g transform="rotate(39)"><rect fill="none" stroke="#fff" stroke-width="1.4" stroke-linecap="round" stroke-linejoin="round" x="-14" y="-2" width="12" height="4" rx="2" stroke-width="1.1"/><rect fill="none" stroke="#fff" stroke-width="1.4" stroke-linecap="round" stroke-linejoin="round" x="-1" y="-2" width="7" height="4" rx="2" stroke-width="1.1"/><rect fill="none" stroke="#fff" stroke-width="1.4" stroke-linecap="round" stroke-linejoin="round" x="7" y="-2" width="8" height="4" rx="2" stroke-width="1.1"/></g><g transform="translate(-5,3.5) rotate(60)"><rect fill="none" stroke="#fff" stroke-width="1.4" stroke-linecap="round" stroke-linejoin="round" x="-8.5" y="-2" width="7" height="4" rx="2" stroke-width="1.1"/><rect fill="none" stroke="#fff" stroke-width="1.4" stroke-linecap="round" stroke-linejoin="round" x="0" y="-2" width="9" height="4" rx="2" stroke-width="1.1"/></g></g>
<circle cx="480.8" cy="303.6" r="18.2" fill="#6fa3dc" stroke="#fff" stroke-width="1.6"/>
<g transform="translate(480.8,303.6)" ><circle fill="#fff" r="8"/><path fill="none" stroke="#fff" stroke-width="1.4" stroke-linecap="round" stroke-linejoin="round" stroke-width="1.6" d="M 8.50,0.00 L 11.50,0.00 M 7.36,4.25 L 9.96,5.75 M 4.25,7.36 L 5.75,9.96 M 0.00,8.50 L 0.00,11.50 M -4.25,7.36 L -5.75,9.96 M -7.36,4.25 L -9.96,5.75 M -8.50,0.00 L -11.50,0.00 M -7.36,-4.25 L -9.96,-5.75 M -4.25,-7.36 L -5.75,-9.96 M -0.00,-8.50 L -0.00,-11.50 M 4.25,-7.36 L 5.75,-9.96 M 7.36,-4.25 L 9.96,-5.75"/><circle fill="#6fa3dc" cx="-2.5" cy="-1.5" r="2.5"/><circle fill="#6fa3dc" cx="3" cy="3" r="2"/><circle fill="#6fa3dc" cx="3" cy="-4" r="1"/><circle fill="#6fa3dc" cx="-3" cy="4.5" r="1"/></g>
<circle cx="543.7" cy="295.2" r="18.2" fill="#6fa3dc" stroke="#fff" stroke-width="1.6"/>
<g transform="translate(543.7,295.2)" ><path fill="none" stroke="#fff" stroke-width="1.4" stroke-linecap="round" stroke-linejoin="round" stroke-width="1.4" d="M -6,5 C -11,3 -11,-5 -6,-7 C -4,-11 4,-11 6,-8 C 11,-7 11,0 7,2 C 5,4 1,2 0,-2 C -1,-5 -5,-4 -4,0 C -3,3 2,4 3,8 C 3,11 -2,12 -4,10 C -6,8 -2,6 0,8 M 6,-8 C 3,-4 6,-1 9,-1 M -6,-7 C -4,-4 -7,-1 -10,0"/></g>
<circle cx="598.1" cy="304.7" r="18.2" fill="#6fa3dc" stroke="#fff" stroke-width="1.6"/>
<g transform="translate(598.1,304.7)" ><ellipse fill="#fff" cx="-6" cy="-8" rx="1.9" ry="1.4" transform="rotate(30 -6 -8)"/><ellipse fill="#fff" cx="0" cy="-9" rx="1.9" ry="1.4" transform="rotate(30 0 -9)"/><ellipse fill="#fff" cx="6" cy="-7" rx="1.9" ry="1.4" transform="rotate(30 6 -7)"/><ellipse fill="#fff" cx="-9" cy="-2" rx="1.9" ry="1.4" transform="rotate(30 -9 -2)"/><ellipse fill="#fff" cx="-3" cy="-3" rx="1.9" ry="1.4" transform="rotate(30 -3 -3)"/><ellipse fill="#fff" cx="3" cy="-3" rx="1.9" ry="1.4" transform="rotate(30 3 -3)"/><ellipse fill="#fff" cx="9" cy="-1" rx="1.9" ry="1.4" transform="rotate(30 9 -1)"/><ellipse fill="#fff" cx="-7" cy="4" rx="1.9" ry="1.4" transform="rotate(30 -7 4)"/><ellipse fill="#fff" cx="-1" cy="3" rx="1.9" ry="1.4" transform="rotate(30 -1 3)"/><ellipse fill="#fff" cx="5" cy="3" rx="1.9" ry="1.4" transform="rotate(30 5 3)"/><ellipse fill="#fff" cx="-4" cy="9" rx="1.9" ry="1.4" transform="rotate(30 -4 9)"/><ellipse fill="#fff" cx="2" cy="9" rx="1.9" ry="1.4" transform="rotate(30 2 9)"/><ellipse fill="#fff" cx="8" cy="6" rx="1.9" ry="1.4" transform="rotate(30 8 6)"/></g>
<circle cx="686.2" cy="300.7" r="18.2" fill="#7ab8e6" stroke="#fff" stroke-width="1.6"/>
<g transform="translate(686.2,300.7)" ><rect fill="#fff" x="-7" y="-7" width="5" height="5" transform="rotate(15 -4.5 -4.5)"/><rect fill="#fff" x="1" y="-3" width="6" height="6" transform="rotate(-10 4 0)"/><rect fill="#fff" x="-6" y="1" width="5" height="5"/><rect fill="#fff" x="-1" y="7" width="4" height="4"/><circle fill="#fff" cx="0" cy="-8" r="1.8"/><circle fill="#fff" cx="-9" cy="2" r="1.5"/></g>
<circle cx="653.3" cy="337.9" r="18.2" fill="#7ab8e6" stroke="#fff" stroke-width="1.6"/>
<g transform="translate(653.3,337.9)" ><g transform="rotate(-20)"><path fill="none" stroke="#fff" stroke-width="1.4" stroke-linecap="round" stroke-linejoin="round" stroke-width="1.5" d="M -8,-6 L 8,-6 L 8,11 L -8,11 Z M -5,-6 L -5,-11 L 5,-11 L 5,-6"/><path fill="none" stroke="#fff" stroke-width="1.4" stroke-linecap="round" stroke-linejoin="round" d="M -4,-2 L 4,-2 L 4,7 L -4,7 Z"/><path fill="none" stroke="#fff" stroke-width="1.4" stroke-linecap="round" stroke-linejoin="round" stroke-width="1.3" d="M 0,-1 L 0,6 M -2,1.5 L 2,1.5"/></g></g>
<circle cx="731.7" cy="359" r="18.2" fill="#7ab8e6" stroke="#fff" stroke-width="1.6"/>
<g transform="translate(731.7,359)" ><circle fill="none" stroke="#fff" stroke-width="1.4" stroke-linecap="round" stroke-linejoin="round" r="11" stroke-width="1.6"/><path fill="#fff" d="M -3,8 C -8,5 -6,-2 -1,-7 C -1,-3 3,-2 3,-5 C 7,-1 7,6 3,8 Z"/><path fill="none" stroke="#7ab8e6" stroke-width="2.6" d="M -8,-8 L 8,8"/><path fill="none" stroke="#fff" stroke-width="1.4" stroke-linecap="round" stroke-linejoin="round" stroke-width="1.4" d="M -8,-8 L 8,8"/></g>
<circle cx="688.3" cy="382.5" r="18.2" fill="#7ab8e6" stroke="#fff" stroke-width="1.6"/>
<g transform="translate(688.3,382.5)" ><circle fill="none" stroke="#fff" stroke-width="1.4" stroke-linecap="round" stroke-linejoin="round" cx="-6" cy="-6" r="3.2"/><circle fill="none" stroke="#fff" stroke-width="1.4" stroke-linecap="round" stroke-linejoin="round" cx="6" cy="-7" r="3.2"/><circle fill="none" stroke="#fff" stroke-width="1.4" stroke-linecap="round" stroke-linejoin="round" cx="1.5" cy="4" r="5"/><circle fill="none" stroke="#fff" stroke-width="1.4" stroke-linecap="round" stroke-linejoin="round" cx="-7" cy="9" r="3.2"/><path fill="none" stroke="#fff" stroke-width="1.4" stroke-linecap="round" stroke-linejoin="round" d="M -3,-6.5 L 3,-7 M -4,-3.5 L -1,0 M 4.5,-4 L 3,-0.5 M -1.5,7.5 L -5,8"/></g>
<circle cx="756.1" cy="423.8" r="18.2" fill="#7ab8e6" stroke="#fff" stroke-width="1.6"/>
<g transform="translate(756.1,423.8)" ><path fill="none" stroke="#fff" stroke-width="1.4" stroke-linecap="round" stroke-linejoin="round" stroke-width="1.5" d="M -10,-10 L -10,10 L 10,10 L 10,-10 L 5,-10 L 5,-6 L 1,-6 L 1,-10 Z" transform="rotate(-8)"/><path fill="none" stroke="#fff" stroke-width="1.4" stroke-linecap="round" stroke-linejoin="round" d="M -7,-6 L -7,7" transform="rotate(-8)"/></g>
<circle cx="708.3" cy="433.3" r="18.2" fill="#7ab8e6" stroke="#fff" stroke-width="1.6"/>
<g transform="translate(708.3,433.3)" ><rect fill="none" stroke="#fff" stroke-width="1.4" stroke-linecap="round" stroke-linejoin="round" x="-11" y="-9" width="13" height="17" rx="5" stroke-width="1.5" transform="rotate(-15)"/><path fill="none" stroke="#fff" stroke-width="1.4" stroke-linecap="round" stroke-linejoin="round" d="M -7,-3 L -3,-3 M -7,0 L -2,0 M -7,3 L -3,3" transform="rotate(-15)"/><circle fill="none" stroke="#fff" stroke-width="1.4" stroke-linecap="round" stroke-linejoin="round" cx="7" cy="7" r="3.5"/><rect fill="none" stroke="#fff" stroke-width="1.4" stroke-linecap="round" stroke-linejoin="round" x="3.5" y="-4" width="7" height="5" stroke-width="1.3"/></g>
<circle cx="315.1" cy="524" r="18.2" fill="#b5d770" stroke="#fff" stroke-width="1.6"/>
<g transform="translate(315.1,524)" ><path fill="none" stroke="#fff" stroke-width="1.4" stroke-linecap="round" stroke-linejoin="round" stroke-width="1.5" d="M 6.5,-2 C 5,-5 4,-6.5 3,-7 L -8.5,-6.5 Q -10.5,-6.5 -10.5,-4.5 L -10.5,8 Q -10.5,10 -8.5,10 L 3,9.5 C 4,9 5,7.5 6.5,4.5 Z"/><path fill="none" stroke="#fff" stroke-width="1.4" stroke-linecap="round" stroke-linejoin="round" stroke-width="1.3" d="M 6.5,-1 C 10,-6 14,-3 12.5,1 C 14,5 10,7 6.5,3.5"/><text x="0" y="0" font-size="10" font-weight="bold" fill="#fff" text-anchor="middle" transform="translate(-2.5,1.5) rotate(-90)" dy="0.36em" style="font-family:Liberation Sans">$</text></g>
<circle cx="365.5" cy="517.3" r="18.2" fill="#b5d770" stroke="#fff" stroke-width="1.6"/>
<g transform="translate(365.5,517.3)" ><g transform="rotate(80)"><path fill="none" stroke="#fff" stroke-width="1.4" stroke-linecap="round" stroke-linejoin="round" stroke-width="1.5" d="M -10,-7 L 10,-7 M 0,-10 L 0,11 M -5,11 L 5,11 M -10,-7 L -14,3 M -10,-7 L -6,3 M 10,-7 L 6,3 M 10,-7 L 14,3"/><path fill="#fff" d="M -14.5,3 A 4.5,4.5 0 0 0 -5.5,3 Z M 5.5,3 A 4.5,4.5 0 0 0 14.5,3 Z"/></g></g>
<circle cx="387.5" cy="568.1" r="18.2" fill="#b5d770" stroke="#fff" stroke-width="1.6"/>
<g transform="translate(387.5,568.1)" ><circle fill="none" stroke="#fff" stroke-width="1.4" stroke-linecap="round" stroke-linejoin="round" cx="-8" cy="1" r="3.5"/><circle fill="none" stroke="#fff" stroke-width="1.4" stroke-linecap="round" stroke-linejoin="round" cx="7" cy="-8" r="3.5"/><circle fill="none" stroke="#fff" stroke-width="1.4" stroke-linecap="round" stroke-linejoin="round" cx="7" cy="9" r="3.5"/><path fill="none" stroke="#fff" stroke-width="1.4" stroke-linecap="round" stroke-linejoin="round" d="M -5,-1 L 4,-6.5 M -5,3 L 4,7.5"/></g>
<circle cx="335.8" cy="595.2" r="18.2" fill="#b5d770" stroke="#fff" stroke-width="1.6"/>
<g transform="translate(335.8,595.2)" ><g transform="translate(1,-1)"><ellipse cx="2" cy="9" rx="8" ry="3.2" fill="#fff" stroke="#b5d770" stroke-width="1" transform="rotate(-20 2 9)"/><ellipse cx="1" cy="5" rx="8" ry="3.2" fill="#fff" stroke="#b5d770" stroke-width="1" transform="rotate(-20 1 5)"/><ellipse cx="0" cy="1" rx="8" ry="3.2" fill="#fff" stroke="#b5d770" stroke-width="1" transform="rotate(-20 0 1)"/><ellipse cx="-1" cy="-3" rx="8" ry="3.2" fill="#fff" stroke="#b5d770" stroke-width="1" transform="rotate(-20 -1 -3)"/><ellipse cx="1" cy="-7.5" rx="8" ry="3.2" fill="#fff" stroke="#b5d770" stroke-width="1" transform="rotate(-20 1 -7.5)"/></g><circle fill="#fff" cx="-6" cy="7.5" r="4.8" stroke="#b5d770" stroke-width="1"/><path fill="none" stroke="#b5d770" stroke-width="1.4" d="M -8.5,7.5 L -3.5,7.5"/></g>
<circle cx="420.3" cy="607" r="18.2" fill="#b5d770" stroke="#fff" stroke-width="1.6"/>
<g transform="translate(420.3,607)" ><circle fill="#fff" r="10.5"/><circle fill="#b5d770" cx="-1" cy="-2" r="3"/><circle fill="#fff" cx="-1" cy="-2" r="1.2"/><path fill="none" stroke="#b5d770" stroke-width="3" d="M 5,3 L 8,13"/><circle fill="#fff" cx="3" cy="8" r="3"/><path fill="none" stroke="#fff" stroke-width="1.4" stroke-linecap="round" stroke-linejoin="round" d="M 5.5,7 L 5.5,-2 C 8,0 11,1 11,5"/></g>
<circle cx="383.5" cy="649.7" r="18.2" fill="#b5d770" stroke="#fff" stroke-width="1.6"/>
<g transform="translate(383.5,649.7)" ><g transform="rotate(-25)"><path fill="none" stroke="#fff" stroke-width="1.4" stroke-linecap="round" stroke-linejoin="round" stroke-width="1.5" d="M -8,-11 L 4,-11 L 4,11 L -8,11 Z M 4,1 L 10,1 L 10,11 L 4,11"/><path fill="none" stroke="#fff" stroke-width="1.4" stroke-linecap="round" stroke-linejoin="round" d="M -5,-7 L 1,-7 M -5,-3 L 1,-3 M -5,1 L 1,1 M -5,5 L 1,5"/></g></g>
<circle cx="477.6" cy="640.8" r="18.2" fill="#6cb83c" stroke="#fff" stroke-width="1.6"/>
<g transform="translate(477.6,640.8)" ><path fill="#fff" d="M -3.5,-11.8 A 12.4,12.4 0 1 0 12.2,3.5 A 9.5,9.5 0 0 1 -3.5,-11.8 Z"/><path fill="none" stroke="#fff" stroke-width="1.4" stroke-linecap="round" stroke-linejoin="round" stroke-width="1.8" d="M 3.5,-9.5 L 8.5,-9.5 L 3.5,-3.5 L 8.5,-3.5"/></g>
<circle cx="538.3" cy="650.2" r="18.2" fill="#6cb83c" stroke="#fff" stroke-width="1.6"/>
<g transform="translate(538.3,650.2)" ><path fill="none" stroke="#fff" stroke-width="1.4" stroke-linecap="round" stroke-linejoin="round" stroke-width="1.5" d="M -10,-2 C -10,-10 10,-10 10,-2 Z M -11,1 L 11,1 M -10,4 C -6,2 -3,6 0,4 C 3,2 6,6 10,4 M -10,7 L 10,7 L 9,10 L -9,10 Z"/><path fill="#fff" d="M -4,-6 l 1,0 0,1 -1,0 Z M 0,-7 l 1,0 0,1 -1,0 Z M 4,-6 l 1,0 0,1 -1,0 Z M -6,-4 l 1,0 0,1 -1,0 Z M 2,-4 l 1,0 0,1 -1,0 Z"/></g>
<circle cx="595.2" cy="641.7" r="18.2" fill="#6cb83c" stroke="#fff" stroke-width="1.6"/>
<g transform="translate(595.2,641.7)" ><circle fill="none" stroke="#fff" stroke-width="1.4" stroke-linecap="round" stroke-linejoin="round" cx="2" cy="-9" r="2.8"/><path fill="none" stroke="#fff" stroke-width="1.4" stroke-linecap="round" stroke-linejoin="round" stroke-width="1.6" d="M 0,-5 L -4,3 L 2,7 L 4,12 M -4,3 L -9,10 M -2,-1 L -8,-6 L -8,-10 M -2,-1 L 6,-3 L 10,-8"/></g>
<circle cx="461.6" cy="688.3" r="18.2" fill="#6cb83c" stroke="#fff" stroke-width="1.6"/>
<g transform="translate(461.6,688.3)" ><g transform="rotate(20)"><rect fill="none" stroke="#fff" stroke-width="1.4" stroke-linecap="round" stroke-linejoin="round" x="-12" y="0" width="20" height="5" stroke-width="1.5"/><path fill="none" stroke="#fff" stroke-width="1.4" stroke-linecap="round" stroke-linejoin="round" d="M 4,0 L 4,5"/></g><path fill="none" stroke="#fff" stroke-width="1.4" stroke-linecap="round" stroke-linejoin="round" stroke-width="1.2" d="M 6,-4 C 4,-7 8,-9 6,-12 M 9,-3 C 7,-6 11,-8 9,-11"/></g>
<circle cx="537.3" cy="701.9" r="18.2" fill="#6cb83c" stroke="#fff" stroke-width="1.6"/>
<g transform="translate(537.3,701.9)" ><rect fill="none" stroke="#fff" stroke-width="1.4" stroke-linecap="round" stroke-linejoin="round" x="-6" y="-12" width="12" height="24" rx="6" stroke-width="1.6"/><path fill="none" stroke="#fff" stroke-width="1.4" stroke-linecap="round" stroke-linejoin="round" d="M -6,0 L 6,0"/><path fill="none" stroke="#fff" stroke-width="1.4" stroke-linecap="round" stroke-linejoin="round" stroke-width="1.2" d="M 2,-9 C 3.5,-8 4,-6 4,-4"/></g>
<circle cx="610.7" cy="689.6" r="18.2" fill="#6cb83c" stroke="#fff" stroke-width="1.6"/>
<g transform="translate(610.7,689.6)" ><path fill="none" stroke="#fff" stroke-width="1.4" stroke-linecap="round" stroke-linejoin="round" stroke-width="1.5" d="M -7,-11 L 7,-11 L 6,-1 C 5,3 -5,3 -6,-1 Z M 0,2 L 0,11 M -5,11 L 5,11"/><path fill="none" stroke="#fff" stroke-width="1.4" stroke-linecap="round" stroke-linejoin="round" stroke-width="1.2" d="M -6,-5 C -3,-3 3,-7 6,-5"/></g>
<circle cx="704.5" cy="548.6" r="18.2" fill="#7cc6b8" stroke="#fff" stroke-width="1.6"/>
<g transform="translate(704.5,548.6)" ><circle fill="none" stroke="#fff" stroke-width="1.4" stroke-linecap="round" stroke-linejoin="round" r="11"/><path fill="none" stroke="#fff" stroke-width="1.4" stroke-linecap="round" stroke-linejoin="round" stroke-width="1.3" d="M -5,-4 L -2,-2 M 5,-4 L 2,-2 M -4,6 C -2,3 2,3 4,6 M -2,-5 C -1,-7 1,-7 2,-5"/></g>
<circle cx="749.3" cy="570.6" r="18.2" fill="#7cc6b8" stroke="#fff" stroke-width="1.6"/>
<g transform="translate(749.3,570.6)" ><path fill="#fff" d="M 0,10 C -6,5 -11,1 -11,-4 C -11,-9 -5,-11 -1,-7 L -3,-2 L 1,1 L -1,6 L 3,1 L 0,-2 L 2,-7 C 6,-11 11,-8 11,-4 C 11,1 6,5 0,10 Z" transform="rotate(-20)"/></g>
<circle cx="647.9" cy="617" r="18.2" fill="#7cc6b8" stroke="#fff" stroke-width="1.6"/>
<g transform="translate(647.9,617)" ><g transform="rotate(-30)"><path fill="none" stroke="#fff" stroke-width="1.4" stroke-linecap="round" stroke-linejoin="round" stroke-width="1.5" d="M -7,-10 L 5,-10 L 8,-6 L 8,11 L -7,11 Z"/><path fill="none" stroke="#fff" stroke-width="1.4" stroke-linecap="round" stroke-linejoin="round" d="M -4,-5 L 5,-5 M -4,-1 L 5,-1 M -4,3 L 5,3 M -4,7 L 5,7"/></g><path fill="#fff" d="M -10,-5 C -12,-7 -9,-10 -7.5,-7.5 C -6,-10 -3,-8 -5,-5 L -7.5,-2.5 Z"/></g>
<circle cx="677" cy="660.8" r="18.2" fill="#7cc6b8" stroke="#fff" stroke-width="1.6"/>
<g transform="translate(677,660.8)" ><circle fill="none" stroke="#fff" stroke-width="1.4" stroke-linecap="round" stroke-linejoin="round" r="11.5"/><circle fill="#fff" cx="-3.5" cy="-3" r="1.2"/><circle fill="#fff" cx="3.5" cy="-3" r="1.2"/><path fill="none" stroke="#fff" stroke-width="1.4" stroke-linecap="round" stroke-linejoin="round" d="M -4.5,5.5 C -2,2.5 2,2.5 4.5,5.5"/></g>
<path fill="url(#figG)" d="M 462.3,493.4 C 462.5,491.5 464,491 466,491 L 478.1,490 C 478.5,486 480.5,485.2 482.6,485.2 C 485.5,485.2 487,487 487,489.4 C 487,492 485.5,493.5 483.8,493.6 L 478.5,496.3 L 486.3,500.8 L 487,502 L 485.5,502.2 L 477.5,498.5 L 482.5,502 L 481.5,503.2 L 480,503 L 474.1,497.5 L 469.6,499 L 469.6,503 L 468,503.8 L 460.2,503.4 L 458.2,502.6 L 452.5,502.6 L 452.1,501.8 L 455,499 L 461.4,498 Z"/>
<path fill="url(#figG)" d="M 509.7,441.2 C 513,441 516,443 515.9,445.1 L 517.1,450.5 L 514.7,453.2 L 515.5,455.9 C 517,457 517.5,459 517.6,462 L 518.2,464 L 526,464 L 529.1,465.2 L 526,467.1 L 518.2,466.7 L 517.4,475.2 C 518,478 518.2,480 518.2,481.4 L 519,489.2 L 519.8,500 L 526.7,502.3 L 518.2,503.5 L 513.6,488.4 L 510.5,500.8 L 513.6,502.7 L 504.7,502.3 L 505.8,498.5 L 507.4,489.2 L 507.4,477.6 L 508.2,470.6 L 506,463 L 501,472 C 501.5,475 500,476.5 499.6,476 C 498,476 498,473 498.9,472.2 L 506.6,459 L 508.9,455.1 L 506.6,452.8 C 504,451 503.5,449 503.9,447.4 C 503.5,444 505,442 509.7,441.2 Z"/>
<path fill="url(#figG)" d="M 558.3,409.7 C 562,409.5 565,410.5 564.7,412.4 L 564.1,418.7 L 562.6,421.8 L 559.9,425.5 C 562,428 563,431 563.1,433.4 L 563.6,439.7 L 566.8,447.1 L 573.1,453.4 L 577.3,455.5 L 577.3,458.7 L 574.1,459.2 L 571,456.6 L 563.8,450.5 L 566.8,464 C 568,469 568.5,474 568.3,478.7 L 566.8,488.2 L 572,496.6 L 581.5,498.7 L 578.4,500.8 L 568.9,501.8 L 562.6,489.2 L 558.3,480.8 L 556.8,470.3 L 553,485 L 547.8,497.6 L 549.5,501.5 L 547.8,503.4 L 537.3,500.8 L 538.3,497.6 L 544.6,480.8 L 547.8,467.1 C 548,462 548.5,458 548.9,454.5 L 549.5,442 L 540,455.5 L 537.5,459.7 L 535.2,457.5 L 536.5,454.5 L 545.7,434.5 C 547,430 549,426 552,424 L 555.2,420.8 C 553.5,418 553,415 553.1,413.4 C 553.5,411 555.5,409.8 558.3,409.7 Z"/>
<path fill="url(#figG)" d="M 612.1,419.3 C 616,419 618.8,421 618.4,423.7 C 618.2,426.5 617.5,428.5 617,430 L 614,432.4 L 611.1,433.4 L 607.7,433.9 C 606.5,437 606.3,440 606.3,442.1 L 606.3,449.9 L 609.2,456.7 L 611.1,462.5 L 610.2,465 L 606.8,463.5 L 605.3,457.7 L 603.4,452.8 L 604.3,458.6 L 607.2,467.4 L 609.2,474.2 L 610.2,479 L 606.8,488.7 L 606.8,497.5 L 613.1,501.3 L 611.1,503.8 L 601.4,502.3 L 602.4,486.8 L 602.4,475 L 600.4,474 L 595.8,483 L 593.2,497.5 L 600.4,500.9 L 599.5,502.8 L 588.3,501.3 L 589.8,497.5 L 591.7,482.9 L 591.2,465.4 L 589.3,454.7 C 589.5,445 590.5,438 592.7,435.3 C 594,432 595.5,430.5 597.5,429.5 L 606.3,425.6 L 608.2,421.7 C 609,420 610.5,419.4 612.1,419.3 Z"/>
<text style='font-family:"Liberation Sans", sans-serif' font-size="14" font-weight="bold" fill="#231815" x="460.3" y="522.8">Time</text>
<path d="M 496.3,520 L 611,520" stroke="#231815" stroke-width="1.9"/><path d="M 608.5,516.3 L 615.8,520 L 608.5,523.7 Z" fill="#231815"/>
<text style='font-family:"Liberation Sans", sans-serif' font-size="12.5" font-weight="bold" fill="#fff" text-anchor="middle" transform="translate(380.2,275.6) rotate(-34.6)" dy="0.36em">Humidity</text>
<text style='font-family:"Liberation Sans", sans-serif' font-size="12.5" font-weight="bold" fill="#fff" text-anchor="middle" transform="translate(328.3,329.3) rotate(-52.5)" dy="0.36em">Radiation</text>
<text style='font-family:"Liberation Sans", sans-serif' font-size="12.5" font-weight="bold" fill="#fff" text-anchor="middle" transform="translate(410.7,315.4) rotate(-41.2)" dy="0.36em">Noise</text>
<text style='font-family:"Liberation Sans", sans-serif' font-size="12.5" font-weight="bold" fill="#fff" text-anchor="middle" transform="translate(368.5,360.4) rotate(-54.7)" dy="0.36em">Light</text>
<text style='font-family:"Liberation Sans", sans-serif' font-size="12.5" font-weight="bold" fill="#fff" text-anchor="middle" transform="translate(294.6,409.4) rotate(-72.5)" dy="0.36em">Electricity</text>
<text style='font-family:"Liberation Sans", sans-serif' font-size="12.5" font-weight="bold" fill="#fff" text-anchor="middle" transform="translate(338.6,422.5) rotate(-68.2)" dy="0.36em">Temperature</text>
<text style='font-family:"Liberation Sans", sans-serif' font-size="13" font-weight="bold" fill="#fff" text-anchor="middle" transform="translate(543.3,220.5) rotate(0)" dy="0.36em">Plant</text>
<text style='font-family:"Liberation Sans", sans-serif' font-size="13" font-weight="bold" fill="#fff" text-anchor="middle" transform="translate(543.3,268.3) rotate(0)" dy="0.36em">Bacteria</text>
<text style='font-family:"Liberation Sans", sans-serif' font-size="13" font-weight="bold" fill="#fff" text-anchor="middle" transform="translate(448.2,238.8) rotate(-22.8)" dy="0.36em">Animal</text>
<text style='font-family:"Liberation Sans", sans-serif' font-size="13" font-weight="bold" fill="#fff" text-anchor="middle" transform="translate(631.6,241.7) rotate(23.4)" dy="0.36em">Archaea</text>
<text style='font-family:"Liberation Sans", sans-serif' font-size="13" font-weight="bold" fill="#fff" text-anchor="middle" transform="translate(467.8,281) rotate(-20.9)" dy="0.36em">Viruses</text>
<text style='font-family:"Liberation Sans", sans-serif' font-size="13" font-weight="bold" fill="#fff" text-anchor="middle" transform="translate(611.6,283.9) rotate(25.6)" dy="0.36em">Fungi</text>
<text style='font-family:"Liberation Sans", sans-serif' font-size="11.5" font-weight="bold" fill="#fff" text-anchor="middle" transform="translate(704.1,285.1) rotate(42.8)" dy="0.36em">Heavy Metals</text>
<text style='font-family:"Liberation Sans", sans-serif' font-size="12.5" font-weight="bold" fill="#fff" text-anchor="middle" transform="translate(671.9,322.3) rotate(47.6)" dy="0.36em">Pesticides</text>
<text style='font-family:"Liberation Sans", sans-serif' font-size="11.5" font-weight="bold" fill="#fff" text-anchor="middle" transform="translate(754.5,348) rotate(62.5)" dy="0.36em">POPs/PBDEs</text>
<text style='font-family:"Liberation Sans", sans-serif' font-size="12.5" font-weight="bold" fill="#fff" text-anchor="middle" transform="translate(709,370.6) rotate(62.2)" dy="0.36em">EDCs</text>
<text style='font-family:"Liberation Sans", sans-serif' font-size="12.5" font-weight="bold" fill="#fff" text-anchor="middle" transform="translate(782.7,422.2) rotate(81.1)" dy="0.36em">Plastics</text>
<text style='font-family:"Liberation Sans", sans-serif' font-size="12.5" font-weight="bold" fill="#fff" text-anchor="middle" transform="translate(732.6,428.4) rotate(82.2)" dy="0.36em">Cosmetics</text>
<text style='font-family:"Liberation Sans", sans-serif' font-size="12.5" font-weight="bold" fill="#fff" text-anchor="middle" transform="translate(291.4,527) rotate(82.9)" dy="0.36em">Poverty</text>
<text style='font-family:"Liberation Sans", sans-serif' font-size="12.5" font-weight="bold" fill="#fff" text-anchor="middle" transform="translate(343.5,525) rotate(82.4)" dy="0.36em">Inequality</text>
<text style='font-family:"Liberation Sans", sans-serif' font-size="12.5" font-weight="bold" fill="#fff" text-anchor="middle" transform="translate(316.3,604.5) rotate(64.8)" dy="0.36em">Debt</text>
<text style='font-family:"Liberation Sans", sans-serif' font-size="12.5" font-weight="bold" fill="#fff" text-anchor="middle" transform="translate(372,666.9) rotate(36.4)" dy="0.36em">Bankruptcy</text>
<text style='font-family:"Liberation Sans", sans-serif' font-size="13" font-weight="bold" fill="#fff" text-anchor="middle" transform="translate(470.2,663.3) rotate(14.6)" dy="0.36em">Sleep</text>
<text style='font-family:"Liberation Sans", sans-serif' font-size="13" font-weight="bold" fill="#fff" text-anchor="middle" transform="translate(536.9,676) rotate(0)" dy="0.36em">Diet</text>
<text style='font-family:"Liberation Sans", sans-serif' font-size="13" font-weight="bold" fill="#fff" text-anchor="middle" transform="translate(602.2,665.6) rotate(-14.4)" dy="0.36em">Exercise</text>
<text style='font-family:"Liberation Sans", sans-serif' font-size="13" font-weight="bold" fill="#fff" text-anchor="middle" transform="translate(452.9,710.8) rotate(18)" dy="0.36em">Smoking</text>
<text style='font-family:"Liberation Sans", sans-serif' font-size="13" font-weight="bold" fill="#fff" text-anchor="middle" transform="translate(536.9,725.8) rotate(0)" dy="0.36em">Drug Use</text>
<text style='font-family:"Liberation Sans", sans-serif' font-size="13" font-weight="bold" fill="#fff" text-anchor="middle" transform="translate(620.7,710.8) rotate(-20.7)" dy="0.36em">Alcohol Use</text>
<text style='font-family:"Liberation Sans", sans-serif' font-size="12.5" font-weight="bold" fill="#fff" text-anchor="middle" transform="translate(716.9,513.4) rotate(-85)" dy="0.36em">Anger</text>
<text style='font-family:"Liberation Sans", sans-serif' font-size="12.5" font-weight="bold" fill="#fff" text-anchor="middle" transform="translate(765.7,523.6) rotate(-84)" dy="0.36em">Sadness</text>
<text style='font-family:"Liberation Sans", sans-serif' font-size="12.5" font-weight="bold" fill="#fff" text-anchor="middle" transform="translate(681.7,584.4) rotate(-49.4)" dy="0.36em">Anxiety</text>
<text style='font-family:"Liberation Sans", sans-serif' font-size="12.5" font-weight="bold" fill="#fff" text-anchor="middle" transform="translate(715.1,618.5) rotate(-48.4)" dy="0.36em">Depression</text>
<text style='font-family:"Liberation Sans", sans-serif' font-size="12" font-weight="bold" fill="#fff" text-anchor="middle" transform="translate(361.3,581.5) rotate(62)"><tspan x="0" y="-1.43">Social</tspan><tspan x="0" y="10.07">Network</tspan></text>
<text style='font-family:"Liberation Sans", sans-serif' font-size="12" font-weight="bold" fill="#fff" text-anchor="middle" transform="translate(400.5,627.8) rotate(41)"><tspan x="0" y="-1.43">Cultural</tspan><tspan x="0" y="10.07">Norms</tspan></text>
</svg></body></html>
